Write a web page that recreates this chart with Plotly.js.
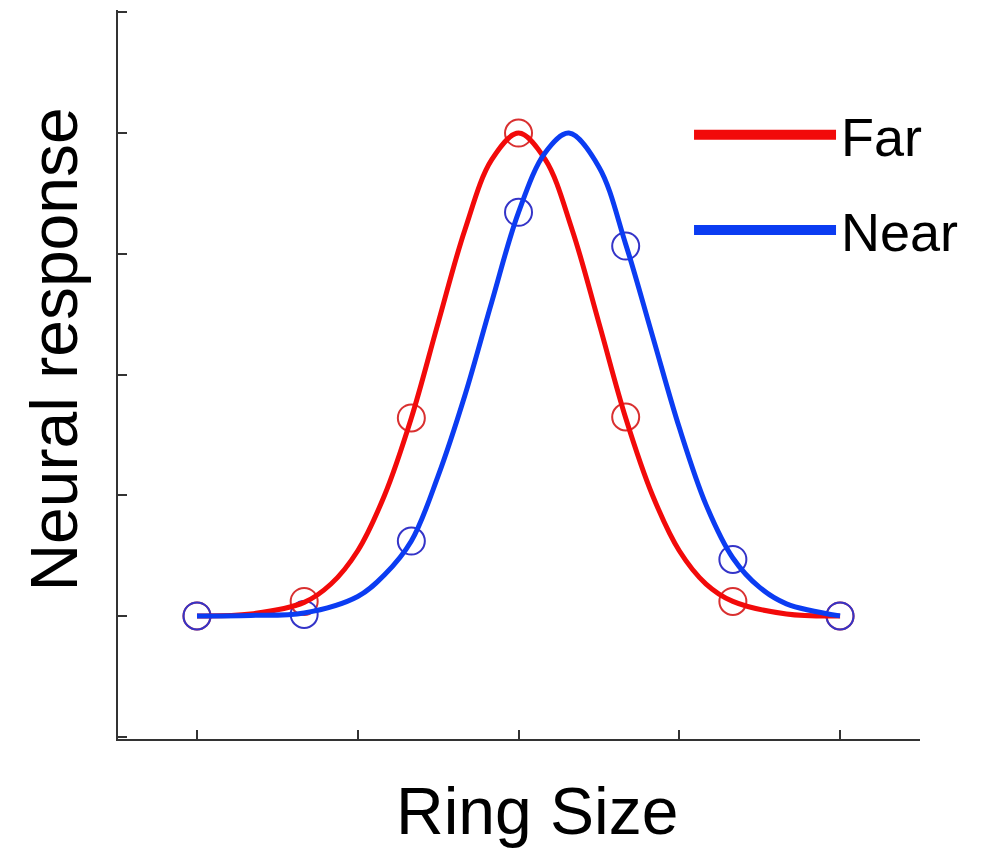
<!DOCTYPE html>
<html>
<head>
<meta charset="utf-8">
<script src="https://cdn.plot.ly/plotly-3.0.1.min.js"></script>
<style>html,body{margin:0;padding:0;background:#fff;}#chart{width:984px;height:850px;}</style>
</head>
<body>
<div id="chart"></div>
<script>
// Ring size index positions of the measured points
var ringSizes = [0, 1, 2, 3, 4, 5, 6];
var farPoints = [0, 0.03, 0.41, 1.0, 0.412, 0.03, 0];
var nearPoints = [0, 0.003, 0.155, 0.836, 0.766, 0.117, 0];

// Fitted tuning curves
var farCurveX = [0, 0.5, 1, 1.25, 1.5, 1.75, 2, 2.25, 2.5, 2.75, 3, 3.25, 3.5, 3.75, 4, 4.25, 4.5, 4.75, 5, 5.5, 6];
var farCurveY = [0, 0.004, 0.028, 0.066, 0.135, 0.25, 0.41, 0.607, 0.80, 0.945, 1, 0.945, 0.80, 0.607, 0.41, 0.25, 0.135, 0.066, 0.03, 0.004, 0];
var nearCurveX = [0, 0.5, 1, 1.5, 1.75, 2, 2.25, 2.5, 2.75, 3, 3.25, 3.47, 3.75, 4, 4.25, 4.5, 4.75, 5, 5.25, 5.5, 6];
var nearCurveY = [0, 0.001, 0.006, 0.04, 0.085, 0.155, 0.29, 0.457, 0.65, 0.836, 0.96, 1, 0.93, 0.77, 0.58, 0.39, 0.23, 0.12, 0.059, 0.025, 0];

var xTicks = [0, 1.5, 3, 4.5, 6];
var yTicks = [-0.25, 0, 0.25, 0.5, 0.75, 1, 1.25];
var seriesNames = ['Far', 'Near'];

var redLine = '#f20a0a', blueLine = '#0b3cf2';
var redMark = '#d93030', blueMark = '#3434c8';

var traces = [
  {x: ringSizes, y: farPoints, mode: 'markers', showlegend: false, hoverinfo: 'skip',
   marker: {symbol: 'circle-open', size: 27, color: redMark, line: {width: 2, color: redMark}}},
  {x: ringSizes, y: nearPoints, mode: 'markers', showlegend: false, hoverinfo: 'skip',
   marker: {symbol: 'circle-open', size: 27, color: blueMark, line: {width: 2, color: blueMark}}},
  {x: farCurveX, y: farCurveY, mode: 'lines', name: seriesNames[0], showlegend: false,
   line: {color: redLine, width: 5, shape: 'spline', smoothing: 1}},
  {x: nearCurveX, y: nearCurveY, mode: 'lines', name: seriesNames[1], showlegend: false,
   line: {color: blueLine, width: 5, shape: 'spline', smoothing: 1}},
  // legend entries (thicker key lines, as in the figure)
  {x: [null], y: [null], mode: 'lines', name: seriesNames[0], legendgroup: 'a',
   line: {color: redLine, width: 10}},
  {x: [null], y: [null], mode: 'lines', name: seriesNames[1], legendgroup: 'b',
   line: {color: blueLine, width: 10}}
];

var layout = {
  width: 984, height: 850,
  margin: {l: 118, r: 64, t: 10, b: 111},
  paper_bgcolor: '#fff', plot_bgcolor: '#fff',
  font: {family: 'Liberation Sans, Arial, sans-serif', color: '#000'},
  showlegend: true,
  legend: {x: 0.712, y: 0.886, xanchor: 'left', yanchor: 'top',
           font: {size: 54, color: '#000'}, itemwidth: 142, tracegroupgap: 22,
           bgcolor: 'rgba(0,0,0,0)'},
  xaxis: {range: [-0.737, 6.746], showgrid: false, zeroline: false, showline: true,
          linecolor: '#333', linewidth: 2, ticks: 'inside', ticklen: 9, tickwidth: 2,
          tickcolor: '#333', tickvals: xTicks, showticklabels: false, fixedrange: true},
  yaxis: {range: [-0.255, 1.255], showgrid: false, zeroline: false, showline: true,
          linecolor: '#333', linewidth: 2, ticks: 'inside', ticklen: 9, tickwidth: 2,
          tickcolor: '#333', tickvals: yTicks, showticklabels: false, fixedrange: true},
  annotations: [
    {text: 'Ring Size', xref: 'paper', yref: 'paper', x: 0.523, y: -0.099,
     xanchor: 'center', yanchor: 'middle', showarrow: false, font: {size: 66, color: '#000'}},
    {text: 'Neural response', xref: 'paper', yref: 'paper', x: -0.08, y: 0.534,
     xanchor: 'center', yanchor: 'middle', textangle: -90, showarrow: false,
     font: {size: 66, color: '#000'}}
  ]
};

Plotly.newPlot('chart', traces, layout, {displayModeBar: false, staticPlot: true});
</script>
</body>
</html>
